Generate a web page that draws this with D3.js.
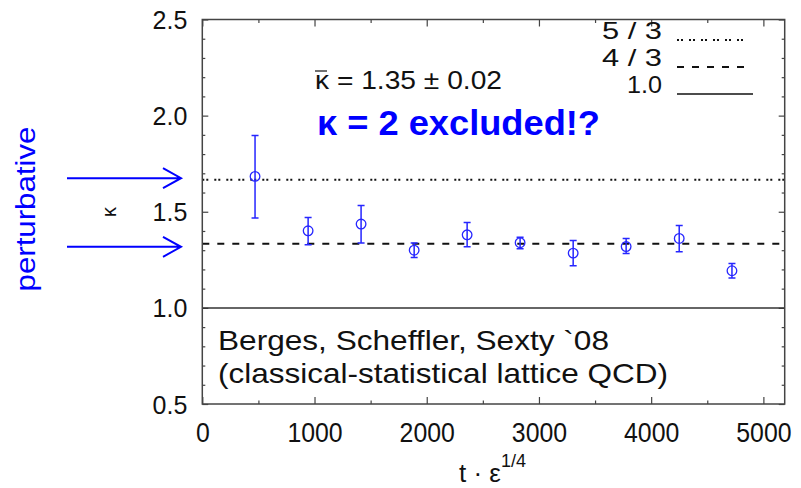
<!DOCTYPE html>
<html>
<head>
<meta charset="utf-8">
<script src="https://cdn.jsdelivr.net/npm/d3@7"></script>
<style>
  body { margin: 0; background: #fff; }
  svg { display: block; font-family: "Liberation Sans", Arial, sans-serif; }
</style>
</head>
<body>
<svg></svg>
<script>
const width = 801;
const height = 488;

// kappa(t) points with error bars
const tValues = [470, 943, 1415, 1888, 2360, 2832, 3305, 3777, 4250, 4720];
const kappa = [1.684, 1.401, 1.436, 1.300, 1.380, 1.339, 1.285, 1.319, 1.361, 1.193];
const kappaLow = [1.467, 1.328, 1.337, 1.262, 1.318, 1.307, 1.219, 1.283, 1.292, 1.155];
const kappaHigh = [1.897, 1.470, 1.533, 1.337, 1.444, 1.368, 1.351, 1.361, 1.429, 1.231];

// reference lines
const refValues = [5 / 3, 4 / 3, 1.0];
const refLabels = ["5 / 3", "4 / 3", "1.0"];

const xTicks = [0, 1000, 2000, 3000, 4000, 5000];
const xMinorTicks = [500, 1500, 2500, 3500, 4500];
const yTicks = [0.5, 1.0, 1.5, 2.0, 2.5];
const yMinorTicks = [0.6, 0.7, 0.8, 0.9, 1.1, 1.2, 1.3, 1.4, 1.6, 1.7, 1.8, 1.9, 2.1, 2.2, 2.3, 2.4];

const plotLeft = 202.3, plotRight = 784.7, plotTop = 19.5, plotBottom = 404;
const frameColor = "#444";
const blue = "#0000ff";
const pointBlue = "#2626ff";

const svg = d3.select("svg")
    .attr("width", width)
    .attr("height", height);

const x = d3.scaleLinear().domain([0, 5190]).range([plotLeft, plotRight]);
const y = d3.scaleLinear().domain([0.5, 2.5]).range([plotBottom, plotTop]);

function fit(sel, w) {
    sel.attr("textLength", w).attr("lengthAdjust", "spacingAndGlyphs");
}
function squeeze(sel, k) {
    sel.each(function () {
        const w = this.getComputedTextLength();
        d3.select(this).attr("textLength", w * k).attr("lengthAdjust", "spacingAndGlyphs");
    });
}

// inward tick marks on all four sides
function ticks(axis, tx, ty) {
    const g = svg.append("g")
        .attr("transform", `translate(${tx},${ty})`)
        .call(axis);
    g.select(".domain").remove();
    g.selectAll("line").attr("stroke", frameColor).attr("stroke-width", 1.2);
}
ticks(d3.axisBottom(x).tickValues(xTicks).tickSize(-7).tickFormat(""), 0, plotBottom);
ticks(d3.axisBottom(x).tickValues(xMinorTicks).tickSize(-3.5).tickFormat(""), 0, plotBottom);
ticks(d3.axisTop(x).tickValues(xTicks).tickSize(-7).tickFormat(""), 0, plotTop);
ticks(d3.axisTop(x).tickValues(xMinorTicks).tickSize(-3.5).tickFormat(""), 0, plotTop);
ticks(d3.axisLeft(y).tickValues(yTicks).tickSize(-6).tickFormat(""), plotLeft, 0);
ticks(d3.axisLeft(y).tickValues(yMinorTicks).tickSize(-3).tickFormat(""), plotLeft, 0);
ticks(d3.axisRight(y).tickValues(yTicks).tickSize(-6).tickFormat(""), plotRight, 0);
ticks(d3.axisRight(y).tickValues(yMinorTicks).tickSize(-3).tickFormat(""), plotRight, 0);

// tick labels
const xLab = svg.append("g")
    .attr("transform", `translate(0,${plotBottom})`)
    .call(d3.axisBottom(x).tickValues(xTicks).tickSize(0).tickPadding(18.5).tickFormat(d3.format("d")));
xLab.select(".domain").remove();
xLab.selectAll("text")
    .attr("font-size", 27)
    .attr("font-family", "Liberation Sans, Arial, sans-serif")
    .attr("fill", "#111")
    .call(squeeze, 0.92);

const yLab = svg.append("g")
    .attr("transform", `translate(${plotLeft},0)`)
    .call(d3.axisLeft(y).tickValues(yTicks).tickSize(0).tickPadding(15).tickFormat(d3.format(".1f")));
yLab.select(".domain").remove();
yLab.selectAll("text")
    .attr("font-size", 25)
    .attr("dy", "0.36em")
    .attr("font-family", "Liberation Sans, Arial, sans-serif")
    .attr("fill", "#111");

// reference lines across the plot
const dashes = ["2,2,2,6", "7,8", null];
svg.selectAll(".ref")
    .data(refValues)
    .enter()
    .append("line")
    .attr("class", "ref")
    .attr("x1", plotLeft)
    .attr("x2", plotRight)
    .attr("y1", d => y(d))
    .attr("y2", d => y(d))
    .attr("stroke", (d, i) => i === 2 ? "#333" : "#111")
    .attr("stroke-width", (d, i) => i === 2 ? 1.5 : 2)
    .attr("stroke-dasharray", (d, i) => dashes[i]);

// legend
const legendX = [677, 747, 745, 753];
const legendY = [40, 67, 94];
const legendW = [60, 60, 35];
refLabels.forEach((lab, i) => {
    svg.append("text")
        .attr("x", 662)
        .attr("y", legendY[i] - 1)
        .attr("text-anchor", "end")
        .attr("font-size", 24)
        .attr("fill", "#111")
        .text(lab)
        .call(fit, legendW[i]);
    svg.append("line")
        .attr("x1", legendX[0])
        .attr("x2", legendX[i + 1])
        .attr("y1", legendY[i])
        .attr("y2", legendY[i])
        .attr("stroke", "#111")
        .attr("stroke-width", i === 2 ? 1.5 : 2)
        .attr("stroke-dasharray", dashes[i]);
});

// frame
svg.append("rect")
    .attr("x", plotLeft)
    .attr("y", plotTop)
    .attr("width", plotRight - plotLeft)
    .attr("height", plotBottom - plotTop)
    .attr("fill", "none")
    .attr("stroke", frameColor)
    .attr("stroke-width", 1.5);

// error bars and points
const pts = tValues.map((t, i) => ({ t, k: kappa[i], lo: kappaLow[i], hi: kappaHigh[i] }));
const cap = 3.5;
const bars = svg.append("g")
    .attr("stroke", pointBlue)
    .attr("stroke-width", 1.5)
    .attr("fill", "none");
bars.selectAll(".err")
    .data(pts)
    .enter()
    .append("path")
    .attr("class", "err")
    .attr("d", d => `M${x(d.t)},${y(d.lo)}V${y(d.hi)}` +
        `M${x(d.t) - cap},${y(d.lo)}H${x(d.t) + cap}` +
        `M${x(d.t) - cap},${y(d.hi)}H${x(d.t) + cap}`);
bars.selectAll("circle")
    .data(pts)
    .enter()
    .append("circle")
    .attr("cx", d => x(d.t))
    .attr("cy", d => y(d.k))
    .attr("r", 4.8)
    .attr("stroke-width", 1.3);

// annotations
svg.append("text")
    .attr("x", 315)
    .attr("y", 89)
    .attr("font-size", 25)
    .attr("fill", "#111")
    .text("κ = 1.35 ±  0.02")
    .call(fit, 187);
svg.append("line")
    .attr("x1", 315).attr("x2", 327)
    .attr("y1", 71).attr("y2", 71)
    .attr("stroke", "#111").attr("stroke-width", 1.2);

svg.append("text")
    .attr("x", 317)
    .attr("y", 135)
    .attr("font-size", 35)
    .attr("font-weight", "bold")
    .attr("fill", blue)
    .text("κ = 2 excluded!?")
    .call(fit, 283);

svg.append("text")
    .attr("x", 218)
    .attr("y", 350)
    .attr("font-size", 28)
    .attr("fill", "#111")
    .text("Berges, Scheffler, Sexty `08")
    .call(fit, 391);
svg.append("text")
    .attr("x", 218)
    .attr("y", 383)
    .attr("font-size", 28)
    .attr("fill", "#111")
    .text("(classical-statistical lattice QCD)")
    .call(fit, 450);

// axis titles
const xTitle = svg.append("text")
    .attr("x", 459)
    .attr("y", 482)
    .attr("font-size", 26)
    .attr("fill", "#111");
xTitle.append("tspan").text("t · ε");
xTitle.append("tspan").attr("font-size", 18).attr("dy", -15).text("1/4");

svg.append("text")
    .attr("transform", "translate(116,212) rotate(-90)")
    .attr("text-anchor", "middle")
    .attr("font-size", 20)
    .attr("fill", "#111")
    .text("κ");

// perturbative label with arrows
svg.append("text")
    .attr("transform", "translate(35,209) rotate(-90)")
    .attr("text-anchor", "middle")
    .attr("font-size", 27)
    .attr("fill", blue)
    .text("perturbative")
    .call(fit, 165);

const arrowY = [y(5 / 3) - 1.5, y(4 / 3) + 3];
svg.selectAll(".arrow")
    .data(arrowY)
    .enter()
    .append("path")
    .attr("class", "arrow")
    .attr("d", d => `M67,${d}H181M163,${d - 10}L181,${d}L163,${d + 10}`)
    .attr("fill", "none")
    .attr("stroke", blue)
    .attr("stroke-width", 2);
</script>
</body>
</html>
